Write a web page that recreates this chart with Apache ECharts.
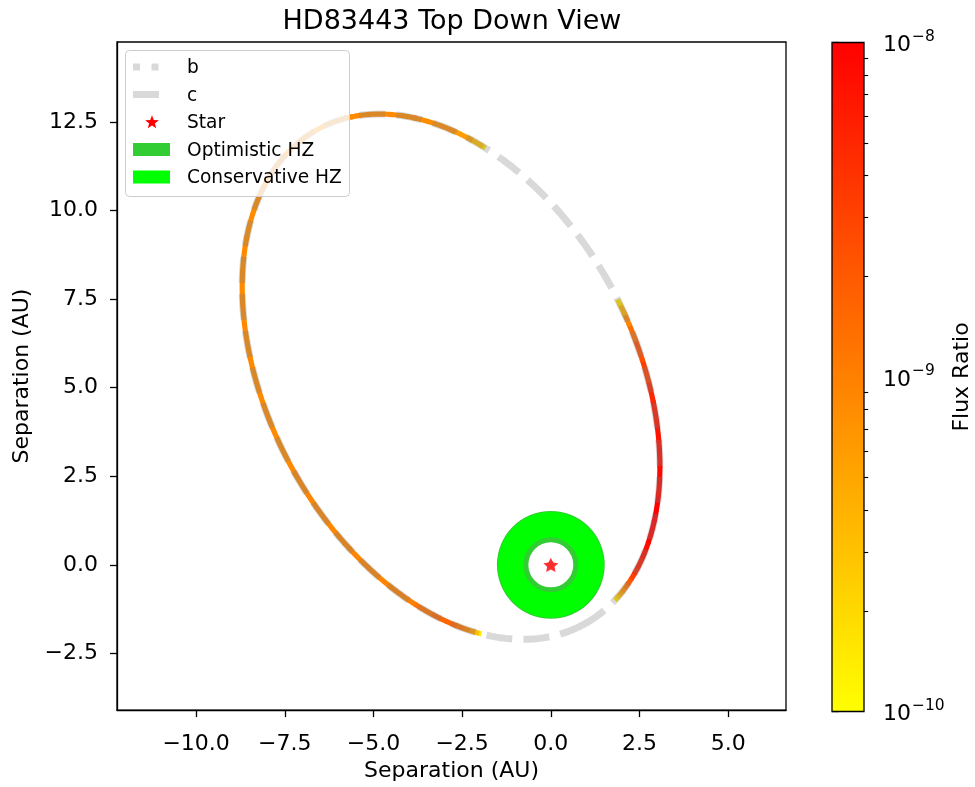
<!DOCTYPE html>
<html>
<head>
<meta charset="utf-8">
<script src="https://cdn.jsdelivr.net/npm/echarts@6/dist/echarts.min.js"></script>
<style>
html, body { margin: 0; padding: 0; background: #ffffff; }
#chart { width: 975px; height: 787px; }
</style>
</head>
<body>
<div id="chart"></div>
<script>
// ---- Orbit of HD 83443 c (AU, degrees); the star sits at the focus ----
const orbitCA = 7.93;            // semi-major axis
const orbitCE = 0.758;           // eccentricity
const orbitCPeriAngle = -62.1;   // sky-plane direction of periapsis
// ---- Orbit of HD 83443 b ----
const orbitBA = 0.0406;
const orbitBE = 0.0;
const orbitBPeriAngle = 0.0;

// ---- Habitable zone boundaries (AU) ----
const optimisticHZ = [0.634, 1.52];
const conservativeHZ = [0.775, 1.49];

// ---- Flux ratio of planet c along its observable arcs (true anomaly in degrees) ----
const arc1Anomaly = [33, 35, 37, 40, 43, 46, 50, 54, 58, 63, 70, 80, 90, 100, 108, 114, 118, 122, 126, 130, 133, 135, 136.5, 138];
const arc1Flux = [1.26e-10, 1.74e-10, 2.75e-10, 5.0e-10, 7.9e-10, 1.26e-9, 2.0e-9, 3.2e-9, 5.0e-9, 6.3e-9, 7.9e-9, 9.1e-9, 1.0e-8, 8.7e-9, 7.9e-9, 7.2e-9, 6.3e-9, 5.0e-9, 3.2e-9, 2.4e-9, 1.4e-9, 8.7e-10, 4.0e-10, 1.74e-10];
const arc2Anomaly = [161, 162, 163.5, 166, 172, 180, 190, 200, 215, 230, 245, 255, 262, 268, 273, 277, 280, 282.5, 285, 287];
const arc2Flux = [1.74e-10, 3.2e-10, 5.8e-10, 7.9e-10, 8.3e-10, 7.9e-10, 7.9e-10, 8.3e-10, 8.3e-10, 8.7e-10, 9.1e-10, 1.0e-9, 1.26e-9, 1.6e-9, 1.6e-9, 1.26e-9, 9.1e-10, 6.0e-10, 3.2e-10, 1.4e-10];

// ---- Axes ----
const xRange = [-12.23, 6.63];
const yRange = [-4.10, 14.76];
const xTicks = [-10, -7.5, -5, -2.5, 0, 2.5, 5];
const yTicks = [-2.5, 0, 2.5, 5, 7.5, 10, 12.5];
const cbarRange = [1e-10, 1e-8];
const cbarMajor = [1e-10, 1e-9, 1e-8];
const cbarMinor = [2e-10, 3e-10, 4e-10, 5e-10, 6e-10, 7e-10, 8e-10, 9e-10, 2e-9, 3e-9, 4e-9, 5e-9, 6e-9, 7e-9, 8e-9, 9e-9];

const FONT = 'DejaVu Sans';
const FS = 22;
const cbarLogMin = Math.log10(cbarRange[0]);
const cbarLogMax = Math.log10(cbarRange[1]);

// Keplerian position in the sky plane for a true anomaly (deg)
function keplerPoint(a, e, periDeg, nuDeg) {
  const nu = nuDeg * Math.PI / 180;
  const r = a * (1 - e * e) / (1 + e * Math.cos(nu));
  const th = nu + periDeg * Math.PI / 180;
  return [r * Math.cos(th), r * Math.sin(th)];
}
function orbitPath(a, e, peri) {
  const pts = [];
  for (let nu = 0; nu <= 360; nu += 0.5) pts.push(keplerPoint(a, e, peri, nu));
  return pts;
}

// autumn_r colour scale on a log axis
function fluxColor(f) {
  let t = (Math.log10(f) - cbarLogMin) / (cbarLogMax - cbarLogMin);
  t = Math.min(1, Math.max(0, t));
  return 'rgb(255,' + Math.round(255 * (1 - t)) + ',0)';
}

// each flux sample colours the stretch of orbit nearest to it
function arcSegments(anom, flux) {
  return anom.map(function (nu, k) {
    const lo = k === 0 ? nu : (anom[k - 1] + nu) / 2 - 0.2;
    const hi = k === anom.length - 1 ? nu : (nu + anom[k + 1]) / 2 + 0.2;
    return [lo, hi, flux[k]];
  });
}
const arcData = arcSegments(arc1Anomaly, arc1Flux).concat(arcSegments(arc2Anomaly, arc2Flux));

function fmtTick(v) {
  return v.toFixed(1).replace('-', '\u2212');
}

function ringItem(color) {
  return function (params, api) {
    const c = api.coord([api.value(0), api.value(1)]);
    const rin = api.size([api.value(2), 0])[0];
    const rout = api.size([api.value(3), 0])[0];
    return {
      type: 'ring',
      shape: { cx: c[0], cy: c[1], r: rout, r0: rin },
      style: { fill: color }
    };
  };
}

const orbitGray = 'rgba(128,128,128,0.3)';

// legend drawn as graphics over the plot
const legX = 133, legText = 187, legRows = [67, 94.5, 122, 149.5, 177];
function starPoints(cx, cy, R) {
  const pts = [];
  for (let i = 0; i < 10; i++) {
    const ang = -Math.PI / 2 + i * Math.PI / 5;
    const rr = i % 2 === 0 ? R : R * 0.42;
    pts.push([cx + rr * Math.cos(ang), cy + rr * Math.sin(ang)]);
  }
  return pts;
}
const legendLabels = ['b', 'c', 'Star', 'Optimistic HZ', 'Conservative HZ'];
const legendGraphics = [
  { type: 'rect', z: 100, shape: { x: 125.5, y: 50.5, width: 224, height: 146, r: 4 },
    style: { fill: 'rgba(255,255,255,0.8)', stroke: '#cccccc', lineWidth: 1 } },
  { type: 'line', z: 101, shape: { x1: legX, y1: legRows[0], x2: legX + 37, y2: legRows[0] },
    style: { stroke: orbitGray, lineWidth: 7, lineDash: [7, 11.5] } },
  { type: 'line', z: 101, shape: { x1: legX, y1: legRows[1], x2: legX + 37, y2: legRows[1] },
    style: { stroke: orbitGray, lineWidth: 7, lineDash: [26, 11.2] } },
  { type: 'polygon', z: 101, shape: { points: starPoints(legX + 19, legRows[2] + 0.5, 7.2) },
    style: { fill: '#ff0000' } },
  { type: 'rect', z: 101, shape: { x: legX, y: legRows[3] - 6.5, width: 37, height: 13 },
    style: { fill: '#32cd32' } },
  { type: 'rect', z: 101, shape: { x: legX, y: legRows[4] - 6.5, width: 37, height: 13 },
    style: { fill: '#00ff00' } }
].concat(legendLabels.map(function (t, i) {
  return { type: 'text', z: 101, x: legText, y: legRows[i] + 1.5,
    style: { text: t, fill: '#000', font: '18.6px "' + FONT + '"', textVerticalAlign: 'middle', textAlign: 'left' } };
}));

const axisCommon = {
  axisLine: { show: true, onZero: false, lineStyle: { color: '#000', width: 1.3 } },
  axisTick: { show: true, length: 7, lineStyle: { color: '#000', width: 1.3 } },
  splitLine: { show: false },
  nameTextStyle: { fontFamily: FONT, fontSize: FS, color: '#000' }
};

const chart = echarts.init(document.getElementById('chart'));
chart.setOption({
  animation: false,
  backgroundColor: '#ffffff',
  title: {
    text: 'HD83443 Top Down View',
    left: 447, top: 3, textAlign: 'center',
    textStyle: { fontFamily: FONT, fontSize: 27, fontWeight: 'normal', color: '#000' }
  },
  grid: [
    { left: 117, top: 42, width: 669, height: 669, show: true, borderColor: '#000', borderWidth: 1.3 },
    { left: 832, top: 42.5, width: 32, height: 669 }
  ],
  xAxis: [
    Object.assign({}, axisCommon, {
      type: 'value', gridIndex: 0, min: xRange[0], max: xRange[1],
      name: 'Separation (AU)', nameLocation: 'middle', nameGap: 49,
      axisTick: Object.assign({}, axisCommon.axisTick, { customValues: xTicks }),
      axisLabel: { customValues: xTicks, formatter: fmtTick, fontFamily: FONT, fontSize: FS, color: '#000', margin: 23 }
    }),
    { type: 'value', gridIndex: 1, min: 0, max: 1, show: false }
  ],
  yAxis: [
    Object.assign({}, axisCommon, {
      type: 'value', gridIndex: 0, min: yRange[0], max: yRange[1],
      name: 'Separation (AU)', nameLocation: 'middle', nameGap: 76,
      axisTick: Object.assign({}, axisCommon.axisTick, { customValues: yTicks }),
      axisLabel: { customValues: yTicks, formatter: fmtTick, fontFamily: FONT, fontSize: FS, color: '#000', margin: 19 }
    }),
    {
      type: 'value', gridIndex: 1, position: 'right', min: cbarLogMin, max: cbarLogMax,
      axisLine: { show: false },
      splitLine: { show: false },
      axisTick: { show: true, length: 7, customValues: cbarMajor.map(Math.log10), lineStyle: { color: '#000', width: 1.3 } },
      axisLabel: {
        customValues: cbarMajor.map(Math.log10), margin: 19,
        formatter: function (v) { return '{b|10}{s|\u2212' + Math.abs(Math.round(v)) + '}'; },
        rich: {
          b: { fontFamily: FONT, fontSize: FS, color: '#000', padding: [6, 0, 0, 0] },
          s: { fontFamily: FONT, fontSize: 15.5, color: '#000', padding: [0, 0, 12, 1] }
        }
      },
      name: 'Flux Ratio', nameLocation: 'middle', nameGap: 87, nameRotate: 90,
      nameTextStyle: { fontFamily: FONT, fontSize: FS, color: '#000' }
    },
    {
      type: 'value', gridIndex: 1, position: 'right', min: cbarLogMin, max: cbarLogMax,
      axisLine: { show: false }, splitLine: { show: false }, axisLabel: { show: false },
      axisTick: { show: true, length: 4.2, customValues: cbarMinor.map(Math.log10), lineStyle: { color: '#000', width: 1.1 } }
    }
  ],
  graphic: legendGraphics,
  series: [
    {
      name: 'Optimistic HZ', type: 'custom', xAxisIndex: 0, yAxisIndex: 0, z: 1, silent: true,
      renderItem: ringItem('#32cd32'),
      data: [[0, 0, optimisticHZ[0], optimisticHZ[1]]]
    },
    {
      name: 'Conservative HZ', type: 'custom', xAxisIndex: 0, yAxisIndex: 0, z: 1, silent: true,
      renderItem: ringItem('#00ff00'),
      data: [[0, 0, conservativeHZ[0], conservativeHZ[1]]]
    },
    {
      name: 'b', type: 'line', xAxisIndex: 0, yAxisIndex: 0, z: 2, silent: true,
      showSymbol: false, symbol: 'none',
      lineStyle: { color: orbitGray, width: 7, type: [7, 11.5] },
      data: orbitPath(orbitBA, orbitBE, orbitBPeriAngle)
    },
    {
      name: 'flux', type: 'custom', xAxisIndex: 0, yAxisIndex: 0, z: 3, silent: true,
      renderItem: function (params, api) {
        const n0 = api.value(0), n1 = api.value(1), f = api.value(2);
        const steps = Math.max(2, Math.ceil((n1 - n0) / 0.25));
        const pts = [];
        for (let i = 0; i <= steps; i++) {
          pts.push(api.coord(keplerPoint(orbitCA, orbitCE, orbitCPeriAngle, n0 + (n1 - n0) * i / steps)));
        }
        return { type: 'polyline', shape: { points: pts },
          style: { stroke: fluxColor(f), lineWidth: 5.2, fill: null, lineCap: 'butt' } };
      },
      data: arcData
    },
    {
      name: 'c', type: 'line', xAxisIndex: 0, yAxisIndex: 0, z: 4, silent: true,
      showSymbol: false, symbol: 'none',
      lineStyle: { color: orbitGray, width: 7, type: [26, 11.2], cap: 'butt' },
      data: orbitPath(orbitCA, orbitCE, orbitCPeriAngle)
    },
    {
      name: 'Star', type: 'scatter', xAxisIndex: 0, yAxisIndex: 0, z: 5, silent: true,
      symbol: 'path://M0,-10L2.94,-4.05L9.51,-3.09L4.76,1.55L5.88,8.09L0,5L-5.88,8.09L-4.76,1.55L-9.51,-3.09L-2.94,-4.05Z',
      symbolKeepAspect: true, symbolSize: 15,
      itemStyle: { color: '#ff0000' },
      data: [[0, 0]]
    },
    {
      name: 'colorbar', type: 'custom', xAxisIndex: 1, yAxisIndex: 1, z: 2, silent: true,
      renderItem: function (params, api) {
        const p0 = api.coord([api.value(0), api.value(1)]);
        const p1 = api.coord([api.value(2), api.value(3)]);
        return {
          type: 'rect',
          shape: { x: p0[0], y: p1[1], width: p1[0] - p0[0], height: p0[1] - p1[1] },
          style: {
            fill: new echarts.graphic.LinearGradient(0, 0, 0, 1, [
              { offset: 0, color: fluxColor(cbarRange[1]) },
              { offset: 0.5, color: fluxColor(Math.sqrt(cbarRange[0] * cbarRange[1])) },
              { offset: 1, color: fluxColor(cbarRange[0]) }
            ]),
            stroke: '#000', lineWidth: 1.3
          }
        };
      },
      data: [[0, cbarLogMin, 1, cbarLogMax]]
    }
  ]
});
</script>
</body>
</html>
